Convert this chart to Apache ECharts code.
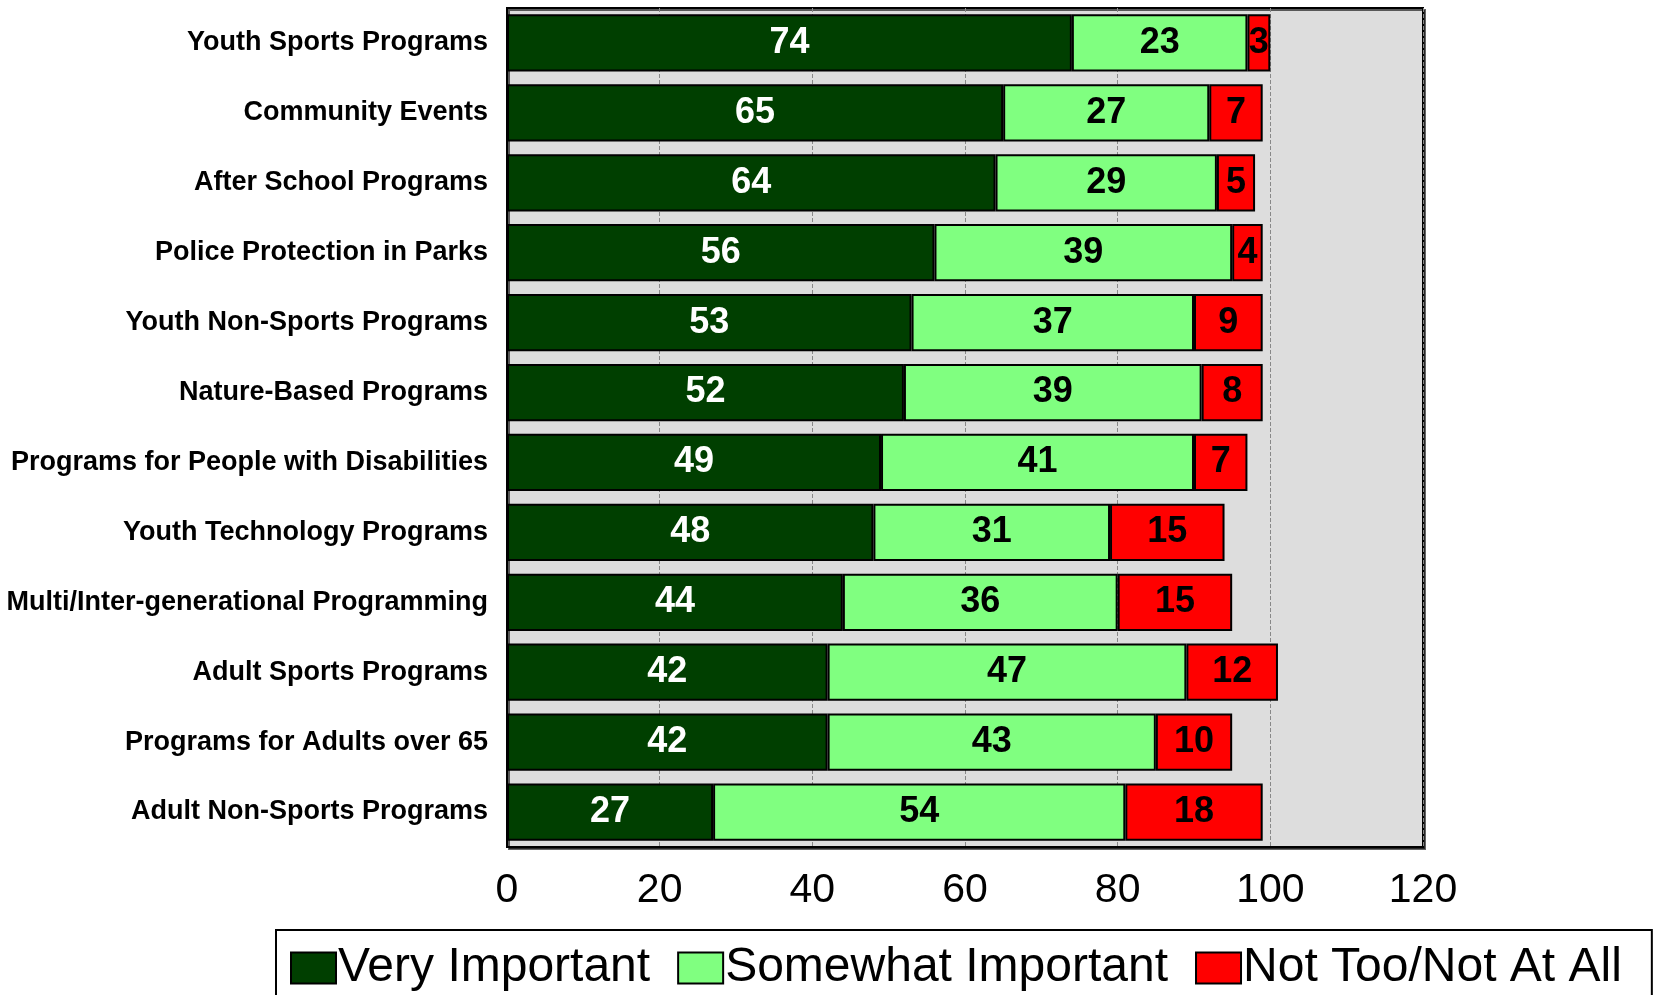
<!DOCTYPE html>
<html><head><meta charset="utf-8">
<script src="https://cdn.jsdelivr.net/npm/echarts@6/dist/echarts.min.js"></script>
<style>html,body{margin:0;padding:0;background:#fff}#c{width:1653px;height:995px}</style>
</head><body><div id="c"></div>
<script>
const categories = ["Youth Sports Programs","Community Events","After School Programs","Police Protection in Parks","Youth Non-Sports Programs","Nature-Based Programs","Programs for People with Disabilities","Youth Technology Programs","Multi/Inter-generational Programming","Adult Sports Programs","Programs for Adults over 65","Adult Non-Sports Programs"];
const veryImportant = [74,65,64,56,53,52,49,48,44,42,42,27];
const somewhatImportant = [23,27,29,39,37,39,41,31,36,47,43,54];
const notTooNotAtAll = [3,7,5,4,9,8,7,15,15,12,10,18];
const seriesNames = ["Very Important","Somewhat Important","Not Too/Not At All"];
const xTicks = [0,20,40,60,80,100,120];

const FONT = "'Liberation Sans', Arial, sans-serif";
const chart = echarts.init(document.getElementById('c'));
function mk(name, data, color, labelColor){
  return {
    name, type:'bar', stack:'s', data, barCategoryGap:'18%',
    itemStyle:{color, borderColor:'#000', borderWidth:2},
    label:{show:true, position:'inside', color:labelColor, fontFamily:FONT, fontWeight:'bold', fontSize:36},
    emphasis:{disabled:true}
  };
}
chart.setOption({
  animation:false,
  textStyle:{fontFamily:FONT},
  grid:{left:507, top:8, right:230, bottom:148, show:true, backgroundColor:'#dddddd', borderColor:'#000', borderWidth:2, containLabel:false,
    shadowColor:'rgba(0,0,0,0.6)', shadowOffsetX:2, shadowOffsetY:2, shadowBlur:0},
  xAxis:{type:'value', min:xTicks[0], max:xTicks[xTicks.length-1], interval:20,
    axisLine:{show:true, lineStyle:{color:'#000', width:2}},
    axisTick:{show:false},
    axisLabel:{color:'#000', fontSize:41, fontFamily:FONT, margin:23},
    splitLine:{show:true, lineStyle:{color:'#888', type:'dashed', width:1}}
  },
  yAxis:{type:'category', data:categories, inverse:true,
    axisLine:{show:true, lineStyle:{color:'#000', width:2}},
    axisTick:{show:false},
    axisLabel:{color:'#000', fontSize:27, fontWeight:'bold', fontFamily:FONT, margin:19}
  },
  legend:{
    data:seriesNames, left:276, top:930, orient:'horizontal',
    itemWidth:45, itemHeight:31, itemGap:27,
    padding:[14,30,40,14],
    borderColor:'#000', borderWidth:2, backgroundColor:'#fff',
    icon:'rect',
    textStyle:{color:'#000', fontSize:48, fontFamily:FONT, padding:[0,0,0,-3]}
  },
  series:[
    mk(seriesNames[0], veryImportant, '#003f00', '#fff'),
    mk(seriesNames[1], somewhatImportant, '#80ff80', '#000'),
    mk(seriesNames[2], notTooNotAtAll, '#ff0000', '#000')
  ]
});
</script></body></html>
